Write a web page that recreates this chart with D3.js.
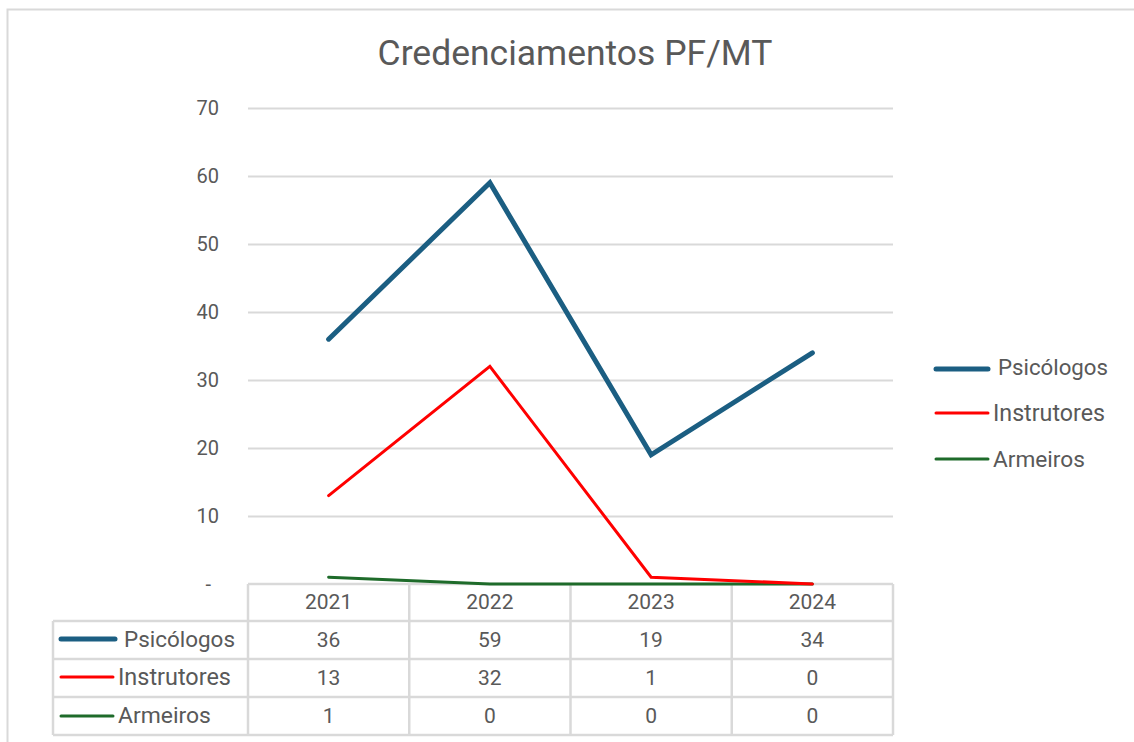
<!DOCTYPE html>
<html><head><meta charset="utf-8">
<script src="https://cdn.jsdelivr.net/npm/d3@7"></script>
<style>body{margin:0;background:#fff}svg{display:block}text{font-family:Roboto,"Open Sans",sans-serif;fill:#595959}</style>
</head><body>
<script>
const title = "Credenciamentos PF/MT";
const years = ["2021","2022","2023","2024"];
const psicologos = [36,59,19,34];
const instrutores = [13,32,1,0];
const armeiros = [1,0,0,0];
const seriesNames = ["Psicólogos","Instrutores","Armeiros"];
const seriesColors = ["#1b5e82","#ff0000","#1e6b2a"];
const seriesWidths = [5,3,3];
const yTicks = [0,10,20,30,40,50,60,70];
const seriesValues = [psicologos, instrutores, armeiros];

const W=1134,H=742;
const svg=d3.select("body").append("svg").attr("width",W).attr("height",H);
svg.append("rect").attr("x",7.5).attr("y",9.5).attr("width",1140).attr("height",750)
  .attr("fill","#fff").attr("stroke","#d9d9d9").attr("stroke-width",2);

const L=248,R=893,T=108,B=584;
const x=d3.scaleBand().domain(years).range([L,R]);
const y=d3.scaleLinear().domain([0,70]).range([B,T]);

function fit(sel,w){const n=sel.node();const cur=n.getComputedTextLength();const fs=parseFloat(sel.attr("font-size"));sel.attr("font-size",fs*w/cur);}

// title
const t=svg.append("text").attr("x",575).attr("y",65).attr("text-anchor","middle").attr("font-size",32).text(title);
fit(t,395);

// grid
svg.append("g").selectAll("line").data(yTicks.filter(d=>d>0)).join("line")
  .attr("x1",L).attr("x2",R).attr("y1",d=>y(d)+0.5).attr("y2",d=>y(d)+0.5)
  .attr("stroke","#d9d9d9").attr("stroke-width",2);
svg.append("g").selectAll("text").data(yTicks).join("text")
  .attr("x",d=>d===0?211:219).attr("y",d=>y(d)+7).attr("text-anchor","end").attr("font-size",20)
  .text(d=>d===0?"-":d);

// table
const rowTops=[584,621,659,697,735];
const tg=svg.append("g").attr("stroke","#d9d9d9").attr("stroke-width",2.5).attr("fill","none");
tg.append("line").attr("x1",L).attr("x2",R).attr("y1",rowTops[0]).attr("y2",rowTops[0]);
rowTops.slice(1).forEach(yy=>tg.append("line").attr("x1",53).attr("x2",R).attr("y1",yy).attr("y2",yy));
tg.append("line").attr("x1",53).attr("x2",53).attr("y1",rowTops[1]).attr("y2",rowTops[4]);
years.forEach(d=>tg.append("line").attr("x1",x(d)).attr("x2",x(d)).attr("y1",rowTops[0]).attr("y2",rowTops[4]));
tg.append("line").attr("x1",R).attr("x2",R).attr("y1",rowTops[0]).attr("y2",rowTops[4]);

svg.append("g").selectAll("text").data(years).join("text")
  .attr("x",d=>x(d)+x.bandwidth()/2).attr("y",609).attr("text-anchor","middle").attr("font-size",21).text(d=>d);

const rowBase=[647,685,723];
seriesValues.forEach((vals,i)=>{
  svg.append("g").selectAll("text").data(vals).join("text")
    .attr("x",(d,j)=>x(years[j])+x.bandwidth()/2).attr("y",rowBase[i]).attr("text-anchor","middle").attr("font-size",21).text(d=>d);
});
const tKeyY=[639,677,716], tKeyX2=[115,113,113], tTextX=[124,118,118], tTextW=[111,113,93];
seriesNames.forEach((n,i)=>{
  svg.append("line").attr("x1",61).attr("x2",tKeyX2[i]).attr("y1",tKeyY[i]).attr("y2",tKeyY[i])
    .attr("stroke",seriesColors[i]).attr("stroke-width",seriesWidths[i]).attr("stroke-linecap","round");
  const tt=svg.append("text").attr("x",tTextX[i]).attr("y",rowBase[i]).attr("font-size",20).text(n);
  fit(tt,tTextW[i]);
});

// lines
const line=d3.line().x((d,j)=>x(years[j])+x.bandwidth()/2).y(d=>y(d));
[2,1,0].forEach(i=>{
  svg.append("path").attr("d",line(seriesValues[i])).attr("fill","none")
    .attr("stroke",seriesColors[i]).attr("stroke-width",seriesWidths[i])
    .attr("stroke-linecap","round").attr("stroke-linejoin","miter");
});

// right legend
const lgY=[369,413,459], lgTextX=[998,993,993], lgBase=[375,421,467], lgW=[110,112,92];
seriesNames.forEach((n,i)=>{
  svg.append("line").attr("x1",936).attr("x2",988).attr("y1",lgY[i]).attr("y2",lgY[i])
    .attr("stroke",seriesColors[i]).attr("stroke-width",seriesWidths[i]).attr("stroke-linecap","round");
  const tt=svg.append("text").attr("x",lgTextX[i]).attr("y",lgBase[i]).attr("font-size",20).text(n);
  fit(tt,lgW[i]);
});
</script>
</body></html>
